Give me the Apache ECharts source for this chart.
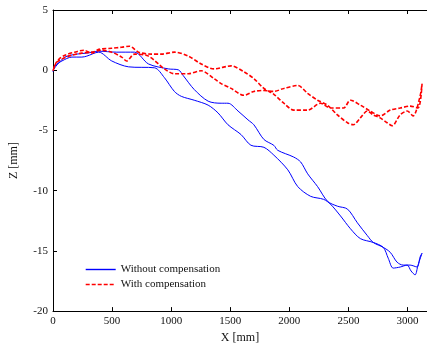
<!DOCTYPE html>
<html>
<head>
    <meta charset="utf-8">
    <script src="https://cdn.jsdelivr.net/npm/echarts/dist/echarts.min.js"></script>
    <style>
        html, body { margin: 0; padding: 0; background: #fff; }
        #main { width: 427px; height: 349px; }
    </style>
</head>
<body>
    <div id="main"></div>
    <script>

        // [X mm, Z mm] points; each run goes out and comes back
        var blueOut = [
            [0, 0], [34, 0.44], [101, 1.09], [202, 1.34], [286, 1.42], [387, 1.58],
            [539, 1.50], [690, 1.50], [808, 0.52], [976, 0.11], [1061, 0.03], [1103, -0.46],
            [1195, -1.60], [1313, -2.57], [1423, -2.74], [1481, -2.74], [1566, -3.39],
            [1650, -4.12], [1700, -4.53], [1785, -5.75], [1869, -6.24], [1902, -6.65],
            [2037, -7.21], [2096, -7.62], [2155, -8.60], [2239, -9.66], [2323, -10.88],
            [2407, -11.29], [2492, -11.53], [2576, -12.67], [2660, -13.73], [2710, -14.30],
            [2795, -14.71], [2854, -15.12], [2912, -15.94], [2963, -16.18], [3022, -16.18],
            [3081, -16.34], [3106, -15.52], [3123, -15.19]
        ];
        var blueBack = [
            [3089, -16.18], [3064, -16.99], [3030, -16.67], [2997, -16.18], [2938, -16.34],
            [2879, -16.43], [2837, -15.61], [2795, -14.71], [2710, -14.30], [2601, -13.98],
            [2517, -13.16], [2433, -12.10], [2348, -11.12], [2290, -10.72], [2180, -10.47],
            [2071, -9.66], [1987, -8.27], [1869, -7.05], [1785, -6.40], [1675, -6.23],
            [1591, -5.34], [1481, -4.53], [1397, -3.55], [1313, -2.90], [1195, -2.49],
            [1086, -2.17], [1027, -1.76], [943, -0.62], [859, 0.20], [640, 0.28],
            [497, 0.77], [387, 1.50], [286, 1.17], [244, 1.09], [160, 1.09], [76, 0.77],
            [17, 0.36], [0, -0.13]
        ];
        var redOut = [
            [0, -0.05], [25, 0.60], [51, 0.93], [101, 1.25], [185, 1.50], [261, 1.66],
            [328, 1.42], [387, 1.74], [497, 1.82], [581, 1.91], [648, 1.99], [724, 1.50],
            [833, 1.34], [918, 1.34], [1027, 1.50], [1145, 1.17], [1254, 0.52], [1364, 0.11],
            [1507, 0.36], [1616, -0.13], [1700, -0.70], [1785, -1.51], [1869, -2.00],
            [1953, -2.74], [2037, -3.31], [2155, -3.31], [2264, -2.74], [2348, -3.14],
            [2458, -3.14], [2517, -2.49], [2601, -2.90], [2685, -3.39], [2769, -3.79],
            [2854, -3.31], [2938, -3.14], [3022, -2.98], [3089, -3.14], [3123, -1.11]
        ];
        var redBack = [
            [3106, -2.17], [3047, -3.79], [2997, -3.39], [2938, -3.71], [2870, -4.61],
            [2828, -4.36], [2769, -3.96], [2710, -3.71], [2660, -3.39], [2601, -3.96],
            [2542, -4.53], [2492, -4.36], [2407, -3.71], [2323, -2.90], [2239, -2.49],
            [2155, -1.92], [2071, -1.27], [1953, -1.51], [1869, -1.76], [1785, -1.68],
            [1700, -1.76], [1616, -2.08], [1507, -1.51], [1423, -1.11], [1364, -0.70],
            [1254, -0.05], [1145, -0.29], [1027, -0.29], [943, 0.11], [808, 1.17],
            [690, 1.34], [623, 0.77], [581, 1.09], [497, 1.50], [412, 1.66], [328, 1.50],
            [244, 1.42], [160, 1.25], [76, 0.93], [34, 0.68], [0, 0.11]
        ];

        var seriesNames = ['Without compensation', 'With compensation'];
        var colors = ['#0000ff', '#ff0000'];

        var font = 'Liberation Serif';
        var axisColor = '#000';

        var chart = echarts.init(document.getElementById('main'), null, {renderer: 'canvas'});

        function plainNumber(v) {
            return String(v);
        }

        var option = {
            animation: false,
            backgroundColor: '#fff',
            textStyle: {fontFamily: font},
            grid: {left: 51, right: 0, top: 10, bottom: 32},
            legend: {
                left: 80,
                top: 259,
                orient: 'vertical',
                itemWidth: 30,
                itemHeight: 8,
                itemGap: 4,
                textStyle: {fontFamily: font, fontSize: 11, color: '#111'},
                itemStyle: {opacity: 0},
                lineStyle: {width: 1.4}
            },
            xAxis: [{
                type: 'value',
                min: 0,
                max: 3165,
                interval: 500,
                name: 'X [mm]',
                nameLocation: 'middle',
                nameGap: 19,
                nameTextStyle: {fontFamily: font, fontSize: 12, color: '#111'},
                axisLine: {onZero: false, lineStyle: {color: axisColor, width: 1}},
                axisTick: {inside: true, length: 4, lineStyle: {color: axisColor}},
                axisLabel: {fontFamily: font, fontSize: 11, color: '#111', margin: 5,
                    showMaxLabel: false, formatter: plainNumber},
                splitLine: {show: false}
            }, {
                type: 'value',
                position: 'top',
                min: 0,
                max: 3165,
                interval: 500,
                axisLine: {onZero: false, lineStyle: {color: axisColor, width: 1}},
                axisTick: {inside: true, length: 4, lineStyle: {color: axisColor}},
                axisLabel: {show: false},
                splitLine: {show: false}
            }],
            yAxis: {
                type: 'value',
                min: -20,
                max: 5,
                interval: 5,
                name: 'Z [mm]',
                nameLocation: 'middle',
                nameGap: 33,
                nameTextStyle: {fontFamily: font, fontSize: 12, color: '#111'},
                axisLine: {show: true, onZero: false, lineStyle: {color: axisColor, width: 1}},
                axisTick: {show: true, inside: true, length: 4, lineStyle: {color: axisColor}},
                axisLabel: {fontFamily: font, fontSize: 11, color: '#111', margin: 5,
                    formatter: plainNumber},
                splitLine: {show: false}
            },
            series: [{
                name: seriesNames[0],
                type: 'line',
                symbol: 'none',
                smooth: 0.3,
                data: blueOut.concat(blueBack),
                lineStyle: {color: colors[0], width: 1},
                itemStyle: {color: colors[0]},
                z: 2
            }, {
                name: seriesNames[1],
                type: 'line',
                symbol: 'none',
                smooth: 0.3,
                data: redOut.concat(redBack),
                lineStyle: {color: colors[1], width: 1.6, type: [4, 2]},
                itemStyle: {color: colors[1]},
                z: 3
            }]
        };

        chart.setOption(option);

    </script>
</body>
</html>
